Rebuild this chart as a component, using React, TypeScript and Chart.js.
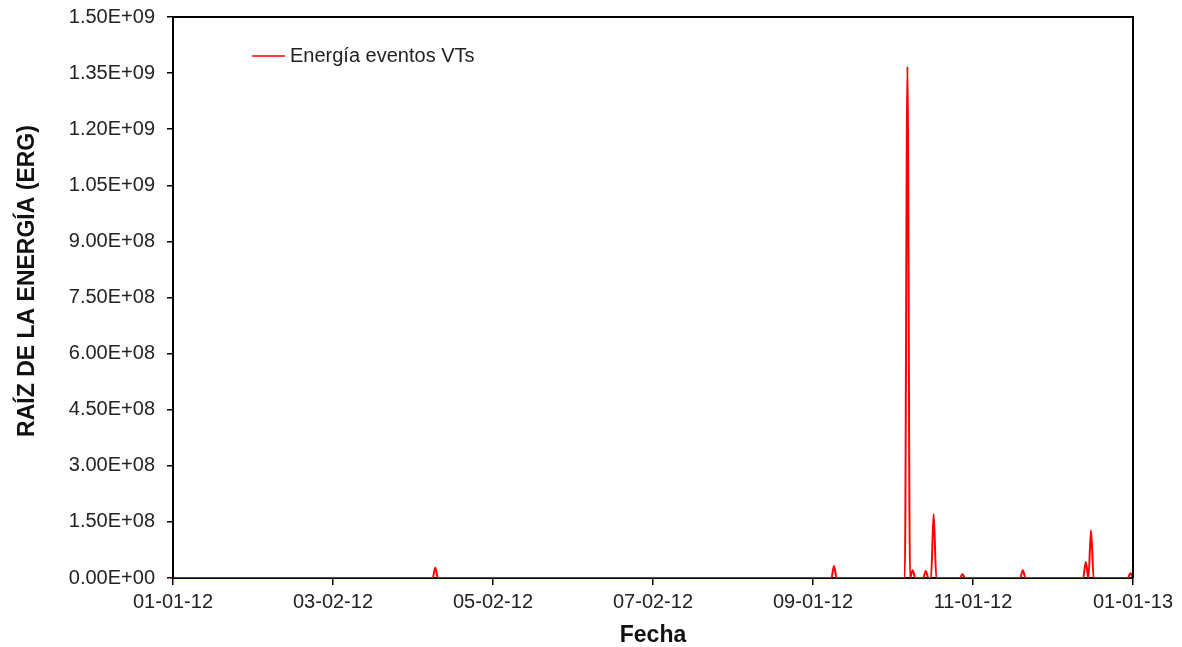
import React, { useEffect, useRef } from "react";
import { Chart, registerables } from "chart.js";

Chart.register(...registerables);

// Day offsets from 01-01-12 (day 0) to 01-01-13 (day 366)
const eventDays = [0, 99, 100, 101, 251, 252, 253, 279, 280, 281, 282, 283, 286, 287, 288, 289, 290, 291, 300, 301, 302, 323, 324, 325, 347, 348, 349, 350, 351, 364, 365, 366];
const energyValues = [0, 0, 2.75e7, 0, 0, 3.2e7, 0, 0, 1.367e9, 0, 2.1e7, 0, 0, 1.9e7, 0, 0, 1.71e8, 0, 0, 1.0e7, 0, 0, 2.1e7, 0, 0, 4.3e7, 0, 1.28e8, 0, 0, 1.25e7, 0];
const xTickLabels = ["01-01-12", "03-02-12", "05-02-12", "07-02-12", "09-01-12", "11-01-12", "01-01-13"];
const seriesLabel = "Energía eventos VTs";
const xTitle = "Fecha";
const yTitle = "RAÍZ DE LA ENERGÍA (ERG)";

const FONT = "'Liberation Sans', Arial, sans-serif";

function fmtExp(v: number): string {
  if (v === 0) return "0.00E+00";
  const exp = Math.floor(Math.log10(Math.abs(v)) + 1e-9);
  const mant = v / Math.pow(10, exp);
  const sign = exp >= 0 ? "+" : "-";
  const e = Math.abs(exp).toString().padStart(2, "0");
  return mant.toFixed(2) + "E" + sign + e;
}

const framePlugin = {
  id: "framePlugin",
  afterDraw(chart: any) {
    const { ctx, chartArea } = chart;
    const { left, right, top, bottom } = chartArea;
    ctx.save();
    ctx.strokeStyle = "#000";
    ctx.lineWidth = 2;
    ctx.beginPath();
    ctx.moveTo(left, bottom);
    ctx.lineTo(left, top);
    ctx.lineTo(right, top);
    ctx.lineTo(right, bottom);
    ctx.stroke();

    // legend
    const ds = chart.data.datasets[0];
    ctx.strokeStyle = ds.borderColor;
    ctx.lineWidth = 1.5;
    ctx.beginPath();
    ctx.moveTo(252, 56);
    ctx.lineTo(285, 56);
    ctx.stroke();
    ctx.fillStyle = "#222";
    ctx.font = "20px " + FONT;
    ctx.textAlign = "left";
    ctx.textBaseline = "middle";
    ctx.fillText(ds.label, 290, 56);

    // axis titles
    ctx.font = "bold 23px " + FONT;
    ctx.fillStyle = "#111";
    ctx.textAlign = "center";
    ctx.fillText(xTitle, (left + right) / 2, 636);
    ctx.translate(28, 281);
    ctx.rotate(-Math.PI / 2);
    ctx.fillText(yTitle, 0, 0);
    ctx.restore();
  },
};

export default function App() {
  const ref = useRef<HTMLCanvasElement>(null);
  useEffect(() => {
    if (!ref.current) return;
    const points = eventDays.map((d, i) => ({ x: d, y: energyValues[i] }));
    const chart = new Chart(ref.current, {
      type: "line",
      data: {
        datasets: [
          {
            label: seriesLabel,
            data: points,
            borderColor: "#ff0000",
            borderWidth: 2,
            pointRadius: 0,
            fill: false,
            cubicInterpolationMode: "monotone",
          },
        ],
      },
      options: {
        animation: false,
        responsive: true,
        maintainAspectRatio: false,
        layout: { padding: { left: 0, right: 49, top: 17, bottom: 0 } },
        plugins: { legend: { display: false }, tooltip: { enabled: false } },
        scales: {
          x: {
            type: "linear",
            min: 0,
            max: 366,
            afterFit: (s: any) => {
              s.height = 69;
            },
            grid: { drawOnChartArea: false, drawTicks: true, tickLength: 7, color: "#000", lineWidth: 1.5 },
            border: { display: true, color: "#000", width: 2 },
            ticks: {
              stepSize: 61,
              autoSkip: false,
              maxRotation: 0,
              padding: 5,
              color: "#222",
              font: { family: FONT, size: 20 },
              callback: (v: any) => xTickLabels[Math.round(Number(v) / 61)] ?? "",
            },
          },
          y: {
            min: 0,
            max: 1.5e9,
            afterFit: (s: any) => {
              s.width = 173;
              s.paddingTop = 0;
              s.paddingBottom = 0;
            },
            grid: { drawOnChartArea: false, drawTicks: true, tickLength: 6, color: "#000", lineWidth: 1.5 },
            border: { display: true, color: "#000", width: 2 },
            ticks: {
              stepSize: 1.5e8,
              padding: 12,
              color: "#222",
              font: { family: FONT, size: 20 },
              callback: (v: any) => fmtExp(Number(v)),
            },
          },
        },
      },
      plugins: [framePlugin],
    } as any);
    return () => chart.destroy();
  }, []);
  return (
    <div style={{ position: "fixed", left: 0, top: 0, width: 1182, height: 647, background: "#fff" }}>
      <canvas ref={ref} />
    </div>
  );
}
